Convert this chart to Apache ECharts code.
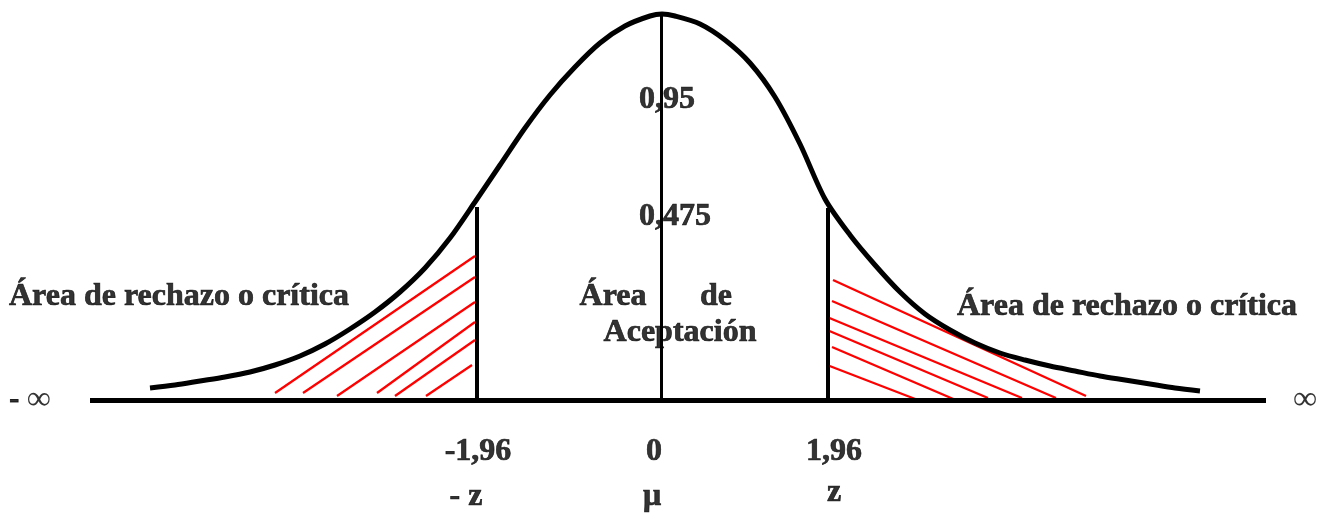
<!DOCTYPE html>
<html>
<head>
<meta charset="utf-8">
<script src="https://cdn.jsdelivr.net/npm/echarts@6/dist/echarts.min.js"></script>
<style>html,body{margin:0;padding:0;background:#fff;}#c{width:1317px;height:514px;}</style>
</head>
<body>
<div id="c"></div>
<script>
// Curve: horizontal position and height above the baseline
var curveX = [150, 175, 200, 225, 250, 275, 300, 325, 350, 375, 400, 425, 450, 475, 500, 525, 550, 575, 600, 625, 650, 662,
  675, 700, 725, 750, 775, 800, 825, 850, 875, 900, 925, 950, 975, 1000, 1025, 1050, 1075, 1100, 1125, 1150, 1175, 1200];
var curveH = [12, 15, 19, 23, 28, 35, 44, 56, 71, 88, 108, 132, 162, 198, 235, 272, 305, 333, 357, 374, 384, 386,
  384, 376, 360, 337, 303, 256, 201, 165, 135, 108, 86, 70, 57, 47, 40, 34, 29, 24, 20, 16, 12, 9];

// Vertical reference lines: -1.96, 0 (mean), 1.96
var vlineX = [477, 661, 828];
var vlineH = [193, 386, 192];
var vlineW = [4, 3, 4];

// Base axis line
var baseX = [90, 1266];

// Red hatching (rejection areas): start / end points
var hatchLeft = [
  [[275, 7], [475, 144]],
  [[303, 7], [475, 123]],
  [[337, 4], [475, 98]],
  [[377, 7], [475, 78]],
  [[395, 4], [475, 60]],
  [[426, 4], [472, 35]]
];
var hatchRight = [
  [[833, 120], [1086, 4]],
  [[832, 99], [1056, 2]],
  [[827, 83], [1022, 2]],
  [[827, 70], [988, 2]],
  [[832, 53], [958, -1]],
  [[827, 35], [923, -2]]
];

// Text annotations
var labelText = ['Área de rechazo o crítica', 'Área de rechazo o crítica', 'Área', 'de', 'Aceptación',
  '0,95', '0,475', '-1,96', '0', '1,96', '- z', 'μ', 'z'];
var labelX = [179, 1127, 613, 716, 680, 667, 675, 478, 654, 834, 466, 652, 834];
var labelH = [103, 93, 103, 103, 67, 300, 183, -52, -52, -52, -97, -97, -93];

var infText = ['-', '∞'];
var infX = [30, 1305];
var infH = [0, 0];

var chart = echarts.init(document.getElementById('c'));

var curveData = curveX.map(function (x, i) { return [x, curveH[i]]; });
var vlineData = vlineX.map(function (x, i) {
  return { coords: [[x, 0], [x, vlineH[i]]], lineStyle: { width: vlineW[i] } };
});
var textData = labelText.map(function (t, i) { return [labelX[i], labelH[i], t]; });
var FONT = 'Liberation Serif';

chart.setOption({
  animation: false,
  backgroundColor: '#ffffff',
  grid: { left: 0, right: 0, top: 0, bottom: 0 },
  xAxis: { type: 'value', min: 0, max: 1317, show: false },
  yAxis: { type: 'value', min: -114, max: 400, show: false },
  series: [
    {
      type: 'lines', coordinateSystem: 'cartesian2d', z: 3,
      lineStyle: { color: '#ff0000', width: 2.3, opacity: 1 },
      data: hatchLeft.concat(hatchRight).map(function (s) { return { coords: s }; })
    },
    {
      type: 'lines', coordinateSystem: 'cartesian2d', z: 4,
      lineStyle: { color: '#000000', width: 5, opacity: 1 },
      data: [{ coords: [[baseX[0], 0], [baseX[1], 0]] }]
    },
    {
      type: 'lines', coordinateSystem: 'cartesian2d', z: 4,
      lineStyle: { color: '#000000', width: 4, opacity: 1 },
      data: vlineData
    },
    {
      type: 'line', z: 5, smooth: 0.3, symbol: 'none',
      lineStyle: { color: '#000000', width: 5, cap: 'butt' },
      data: curveData
    },
    {
      type: 'scatter', z: 6, symbolSize: 0, silent: true,
      data: textData,
      label: {
        show: true, position: 'inside', color: '#000',
        fontFamily: FONT, fontWeight: 'bold', fontSize: 32,
        textBorderColor: '#000', textBorderWidth: 0.7,
        align: 'center', verticalAlign: 'middle',
        formatter: function (p) { return p.data[2]; }
      }
    },
    {
      type: 'scatter', z: 6, symbolSize: 0, silent: true,
      data: infX.map(function (x, i) { return [x, infH[i], i === 0 ? '{b|' + infText[0] + '}{s| }{n|' + infText[1] + '}' : '{n|' + infText[1] + '}']; }),
      label: {
        show: true, position: 'inside', color: '#000',
        align: 'center', verticalAlign: 'middle',
        formatter: function (p) { return p.data[2]; },
        rich: {
          b: { fontFamily: FONT, fontWeight: 'bold', fontSize: 30, color: '#000', textBorderColor: '#000', textBorderWidth: 0.8 },
          s: { fontFamily: FONT, fontSize: 30, color: '#000' },
          n: { fontFamily: FONT, fontWeight: 'normal', fontSize: 34, color: '#000' }
        }
      }
    }
  ]
});
</script>
</body>
</html>
